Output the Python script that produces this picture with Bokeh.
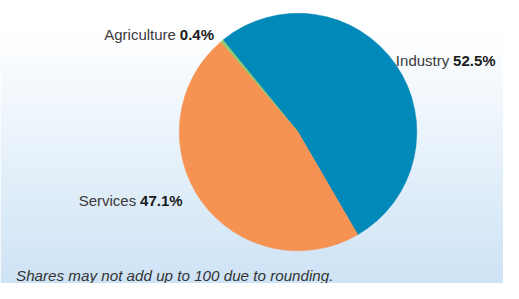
import numpy as np
from bokeh.plotting import figure
from bokeh.models import ColumnDataSource, Range1d
from bokeh.core.properties import value
from bokeh.embed import file_html
from bokeh.resources import INLINE

# ---- data ----
sectors = ["Industry", "Agriculture", "Services"]
shares = [52.5, 0.4, 47.1]
share_labels = ["52.5%", "0.4%", "47.1%"]
footnote = "Shares may not add up to 100 due to rounding."

# ---- style / layout ----
colors = ["#0089b9", "#8cc86e", "#f69352"]
W, H = 503, 283
RW, RH = 519, 299          # reference canvas size
SX, SY = W / RW, H / RH
start_deg = -59.8
cx_ref, cy_ref, R_ref = 307, 139, 124

# label anchors in reference pixels: (name end x, value start x, baseline y)
name_end_x = [463, 181, 140]
value_start_x = [467, 185, 144]
baseline_y = [63, 36, 211.5]

NAME_FONT = "'Liberation Sans', Arial, sans-serif"
FOOT_FONT = "'Liberation Sans', Arial, sans-serif"


def fx(x):
    return x * SX


def fy(y):
    return H - y * SY


p = figure(width=W, height=H, output_backend="svg", toolbar_location=None,
           x_range=Range1d(0, W), y_range=Range1d(0, H),
           x_axis_type=None, y_axis_type=None, min_border=0,
           outline_line_color=None, background_fill_color="white",
           border_fill_color="white")
p.grid.visible = False

# background gradient (white at top to light blue at bottom)
rows = np.arange(H)
ref_y = (H - 1 - rows + 0.5) / SY
t = np.clip((ref_y - 30) / (RH - 30), 0, 1)
top = np.array([255, 255, 255])
bot = np.array([206, 227, 245])
img = np.zeros((H, 1), dtype=np.uint32)
view = img.view(dtype=np.uint8).reshape((H, 1, 4))
for i in range(H):
    c = top + (bot - top) * t[i]
    view[i, 0, 0] = int(round(c[0]))
    view[i, 0, 1] = int(round(c[1]))
    view[i, 0, 2] = int(round(c[2]))
    view[i, 0, 3] = 255
p.image_rgba(image=[img], x=0, y=0, dw=W, dh=H)

# pie
frac = np.array(shares) / sum(shares)
ends = np.radians(start_deg) + np.cumsum(frac) * 2 * np.pi
starts = np.concatenate([[np.radians(start_deg)], ends[:-1]])
src = ColumnDataSource(dict(sector=sectors, share=shares, start=starts, end=ends, color=colors))
p.wedge(x=fx(cx_ref), y=fy(cy_ref), radius=R_ref * (SX + SY) / 2,
        start_angle="start", end_angle="end",
        direction="anticlock", fill_color="color", line_color="color", line_width=0.5,
        source=src)

# labels
lab = ColumnDataSource(dict(
    name=sectors, val=share_labels,
    nx=[fx(v) for v in name_end_x], vx=[fx(v) for v in value_start_x],
    y=[fy(v) for v in baseline_y]))
p.text(x="nx", y="y", text="name", source=lab, text_align="right",
       text_baseline="alphabetic", text_font=value(NAME_FONT),
       text_font_size="15px", text_color="#3a3a3a")
p.text(x="vx", y="y", text="val", source=lab, text_align="left",
       text_baseline="alphabetic", text_font=value(NAME_FONT),
       text_font_size="15px", text_font_style="bold", text_color="#1a1a1a")

# footnote (kept just inside the bottom edge)
p.text(x=[fx(16)], y=[fy(291)], text=[footnote], text_align="left",
       text_baseline="alphabetic", text_font=value(FOOT_FONT),
       text_font_size="15.2px", text_font_style="italic", text_color="#333333")

open("out.html", "w").write(file_html(p, INLINE))
